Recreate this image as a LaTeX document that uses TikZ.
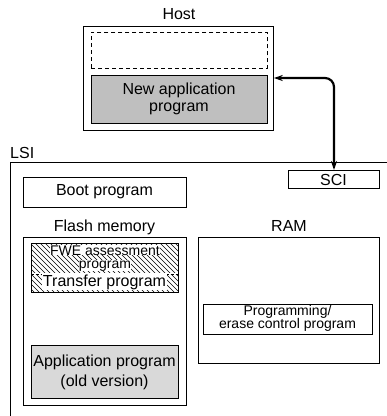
\documentclass[tikz,border=0pt]{standalone}
\usepackage{fontspec}
\setmainfont{Liberation Sans}
\usetikzlibrary{arrows.meta}
\definecolor{hostgray}{HTML}{BFBFBF}
\definecolor{appgray}{HTML}{D9D9D9}
\tikzset{
  box/.style={draw, line width=0.8bp, inner sep=0pt, anchor=north west},
  lbl/.style={inner sep=0pt, font=\fontsize{16bp}{18bp}\selectfont},
  txt/.style={inner sep=0pt, align=center, font=\fontsize{16bp}{18bp}\selectfont},
  smalltxt/.style={inner sep=0pt, align=center, font=\fontsize{14bp}{13.5bp}\selectfont},
  smallline/.style={inner sep=0.3bp, fill=white, font=\fontsize{14bp}{14bp}\selectfont},
  link/.style={line width=2.2bp, rounded corners=9bp, {Stealth[length=9bp,width=6bp]}-{Stealth[length=9bp,width=6bp]}}
}
\begin{document}
\begin{tikzpicture}[x=1bp,y=-1bp]
\useasboundingbox (0,0) rectangle (387,416);
\clip (0,0) rectangle (387,416);
% Host
\node[lbl] (hostlbl) at (179,14) {Host};
\node[box, minimum width=190bp, minimum height=104bp] (host) at (83,26) {};
\node[box, dashed, dash pattern=on 4bp off 3bp, minimum width=176bp, minimum height=36bp] (hostdash) at (91,32) {};
\node[box, fill=hostgray, minimum width=176bp, minimum height=48bp] (newapp) at (91,75) {};
\node[txt, font=\fontsize{16bp}{17bp}\selectfont] (newapptxt) at (179,99) {New application\\program};
% LSI
\node[lbl, anchor=west] (lsilbl) at (10,153) {LSI};
\coordinate (lsibl) at (10,420);
\coordinate (lsitl) at (10,162);
\coordinate (lsitr) at (392,162);
\draw[line width=0.8bp] (lsibl) -- (lsitl) -- (lsitr);
% Boot
\node[box, minimum width=163bp, minimum height=30bp] (boot) at (23,177) {};
\node[lbl] (boottxt) at (104.5,192) {Boot program};
% Flash
\node[lbl] (flashlbl) at (104.5,227) {Flash memory};
\node[box, minimum width=163bp, minimum height=168bp] (flash) at (23,237) {};
% hatched region
\begin{scope}
  \clip (31,243) rectangle (178,292);
  \foreach \i in {-60,-55,...,180} {
    \draw[line width=0.5bp] (\i,243) -- (\i+49,292);
  }
\end{scope}
\node[box, minimum width=147bp, minimum height=30bp] (fwe) at (31,243) {};
\node[box, minimum width=147bp, minimum height=19bp] (transfer) at (31,273) {};
\draw[white, line width=1bp] (fwe.south west) -- (fwe.south east);
\draw[line width=0.6bp, dash pattern=on 2.5bp off 2.5bp] (fwe.south west) -- (fwe.south east);
\draw[line width=0.8bp] (31,243) rectangle (178,292);
\node[smallline, anchor=base] (fwetxt1) at (105,255) {FWE assessment};
\node[smallline, anchor=base] (fwetxt2) at (105,268) {program};
\node[lbl, fill=white, inner sep=0.5bp] (transfertxt) at (104.5,282) {Transfer program};
% Application
\node[box, fill=appgray, minimum width=147bp, minimum height=53bp] (app) at (31,345) {};
\node[txt, font=\fontsize{16bp}{20bp}\selectfont] (apptxt) at (104.5,372) {Application program\\(old version)};
% RAM
\node[lbl] (ramlbl) at (289,226) {RAM};
\node[box, minimum width=181bp, minimum height=126bp] (ram) at (198,237) {};
\node[box, minimum width=169bp, minimum height=30bp] (prog) at (203,304) {};
\node[smalltxt] (progtxt) at (287.5,318.5) {Programming/\\erase control program};
% SCI
\node[box, minimum width=91bp, minimum height=18bp] (sci) at (288,170) {};
\node[lbl] (scitxt) at (333.5,179.5) {SCI};
% Link
\coordinate (bend) at (334,78);
\draw[link] (host.east |- bend) -- (bend) -- (sci.north -| bend);
\end{tikzpicture}
\end{document}
